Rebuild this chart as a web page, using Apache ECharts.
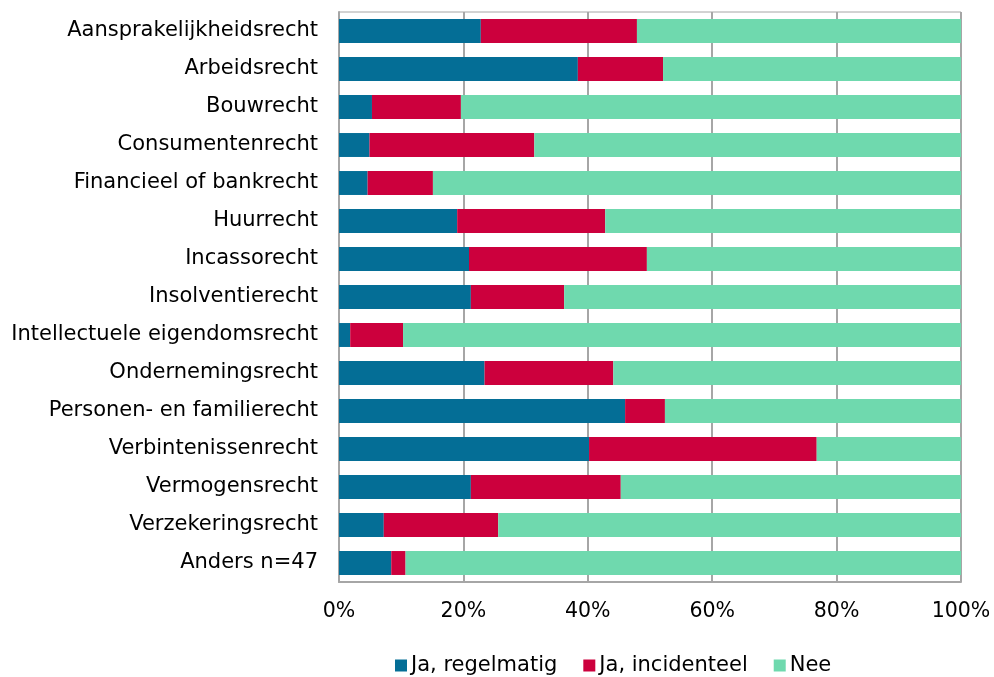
<!DOCTYPE html>
<html>
<head>
<meta charset="utf-8">
<script src="https://cdn.jsdelivr.net/npm/echarts@6/dist/echarts.min.js"></script>
<style>
  html, body { margin: 0; padding: 0; background: #fff; }
  #chart { width: 994px; height: 677px; }
</style>
</head>
<body>
<div id="chart"></div>
<script>
// rechtsgebieden (van boven naar beneden)
const categories = [
  'Aansprakelijkheidsrecht', 'Arbeidsrecht', 'Bouwrecht', 'Consumentenrecht',
  'Financieel of bankrecht', 'Huurrecht', 'Incassorecht', 'Insolventierecht',
  'Intellectuele eigendomsrecht', 'Ondernemingsrecht', 'Personen- en familierecht',
  'Verbintenissenrecht', 'Vermogensrecht', 'Verzekeringsrecht', 'Anders n=47'
]
// percentages per antwoord
const regelmatig = [22.8, 38.4, 5.3, 4.9, 4.6, 19.0, 20.9, 21.2, 1.8, 23.4, 46.0, 40.2, 21.2, 7.2, 8.4]
const incidenteel = [25.1, 13.7, 14.3, 26.5, 10.5, 23.8, 28.6, 15.0, 8.5, 20.7, 6.4, 36.6, 24.1, 18.4, 2.3]
const nee = [52.1, 47.9, 80.4, 68.6, 84.9, 57.2, 50.5, 63.8, 89.7, 55.9, 47.6, 23.2, 54.7, 74.4, 89.3]
const seriesNames = ['Ja, regelmatig', 'Ja, incidenteel', 'Nee']
const colors = ['#046E96', '#CC003D', '#6FD9AE']

const font = 'DejaVu Sans, Verdana, sans-serif'
const gray = '#A6A6A6'

function bar(name, data) {
  return {
    name: name,
    type: 'bar',
    stack: 'totaal',
    barCategoryGap: '37%',
    data: data,
    emphasis: { disabled: true }
  }
}

const myChart = echarts.init(document.getElementById('chart'), null, { renderer: 'canvas' })
myChart.setOption({
  animation: false,
  color: colors,
  textStyle: { fontFamily: font },
  grid: {
    left: 339, right: 33, top: 12, bottom: 95,
    show: true, borderColor: gray, borderWidth: 1
  },
  legend: {
    top: 650,
    left: 390,
    itemWidth: 12, itemHeight: 12, itemGap: 26,
    icon: 'rect',
    textStyle: { fontFamily: font, fontSize: 21, color: '#000', padding: [0, 0, 0, -1] },
    data: seriesNames
  },
  xAxis: {
    type: 'value',
    min: 0, max: 100, interval: 20,
    axisLine: { show: true, lineStyle: { color: gray, width: 2 } },
    axisTick: { show: false },
    splitLine: { show: true, lineStyle: { color: gray, width: 2 } },
    axisLabel: {
      formatter: '{value}%',
      fontFamily: font, fontSize: 20.5, color: '#000', margin: 19
    }
  },
  yAxis: {
    type: 'category',
    inverse: true,
    data: categories,
    axisLine: { show: true, lineStyle: { color: gray, width: 2 } },
    axisTick: { show: false },
    axisLabel: { fontFamily: font, fontSize: 21, color: '#000', margin: 21 }
  },
  series: [
    bar(seriesNames[0], regelmatig),
    bar(seriesNames[1], incidenteel),
    bar(seriesNames[2], nee)
  ]
})
</script>
</body>
</html>
